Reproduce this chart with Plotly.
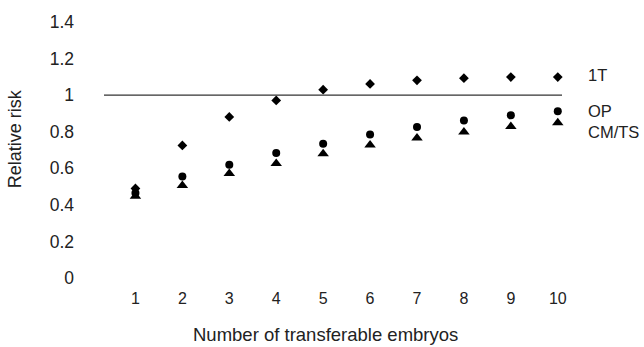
import plotly.graph_objects as go

# ---- data ----
embryos = [1, 2, 3, 4, 5, 6, 7, 8, 9, 10]
risk_1T = [0.49, 0.725, 0.881, 0.971, 1.030, 1.061, 1.081, 1.093, 1.099, 1.099]
risk_OP = [0.465, 0.555, 0.619, 0.684, 0.734, 0.785, 0.826, 0.862, 0.890, 0.912]
risk_CMTS = [0.447, 0.506, 0.572, 0.626, 0.680, 0.727, 0.766, 0.799, 0.828, 0.849]
series_names = ["1T", "OP", "CM/TS"]
y_ticks = [0, 0.2, 0.4, 0.6, 0.8, 1, 1.2, 1.4]
y_tick_labels = ["0", "0.2", "0.4", "0.6", "0.8", "1", "1.2", "1.4"]
reference_risk = 1

W, H = 644, 347
L, R, T, B = 104, 82, 18, 69
FONT = "Liberation Sans, Arial, Helvetica, sans-serif"
TXT = "#222222"

def px_to_paper_x(px):
    return (px - L) / (W - L - R)

def px_to_paper_y(py):
    return (H - B - py) / (H - T - B)

fig = go.Figure()

fig.add_trace(go.Scatter(
    x=embryos, y=risk_CMTS, mode="markers", name=series_names[2],
    marker=dict(symbol="triangle-up", size=10, color="black"),
    cliponaxis=False))
fig.add_trace(go.Scatter(
    x=embryos, y=risk_OP, mode="markers", name=series_names[1],
    marker=dict(symbol="circle", size=8, color="black"),
    cliponaxis=False))
fig.add_trace(go.Scatter(
    x=embryos, y=risk_1T, mode="markers", name=series_names[0],
    marker=dict(symbol="diamond", size=7.5, color="black"),
    cliponaxis=False))

# reference line at relative risk = 1
fig.add_shape(type="line", xref="paper", yref="y", x0=0, x1=1,
              y0=reference_risk, y1=reference_risk,
              line=dict(color="#333333", width=1.3))

# series labels on the right
label_y = {"1T": 1.109, "OP": 0.913, "CM/TS": 0.80}
for name in series_names:
    fig.add_annotation(x=px_to_paper_x(586), xref="paper", y=label_y[name], yref="y",
                       text=name, showarrow=False, xanchor="left", yanchor="middle",
                       font=dict(family=FONT, size=16.5, color=TXT))

# axis titles
fig.add_annotation(x=px_to_paper_x(15), xref="paper", y=px_to_paper_y(137), yref="paper",
                   text="Relative risk", textangle=-90, showarrow=False,
                   xanchor="center", yanchor="middle",
                   font=dict(family=FONT, size=18, color=TXT))
fig.add_annotation(x=px_to_paper_x(325.5), xref="paper", y=px_to_paper_y(335), yref="paper",
                   text="Number of transferable embryos", showarrow=False,
                   xanchor="center", yanchor="middle",
                   font=dict(family=FONT, size=18.5, color=TXT))

fig.update_layout(
    width=W, height=H,
    margin=dict(l=L, r=R, t=T, b=B, pad=0),
    paper_bgcolor="white", plot_bgcolor="white",
    showlegend=False,
    font=dict(family=FONT, size=16, color=TXT),
)
fig.update_xaxes(range=[0.33, 10.09], tickvals=embryos, ticktext=[str(e) for e in embryos],
                 showgrid=False, zeroline=False, showline=False, ticks="",
                 ticklabelstandoff=9, tickfont=dict(size=16))
fig.update_yaxes(range=[0, 1.4], tickvals=y_ticks, ticktext=y_tick_labels,
                 showgrid=False, zeroline=False, showline=False, ticks="",
                 ticklabelstandoff=29, tickfont=dict(size=17.5))

fig.write_html("out.html", config={"displayModeBar": False},
               post_script="document.body.style.margin='0';document.body.style.overflow='hidden';")
